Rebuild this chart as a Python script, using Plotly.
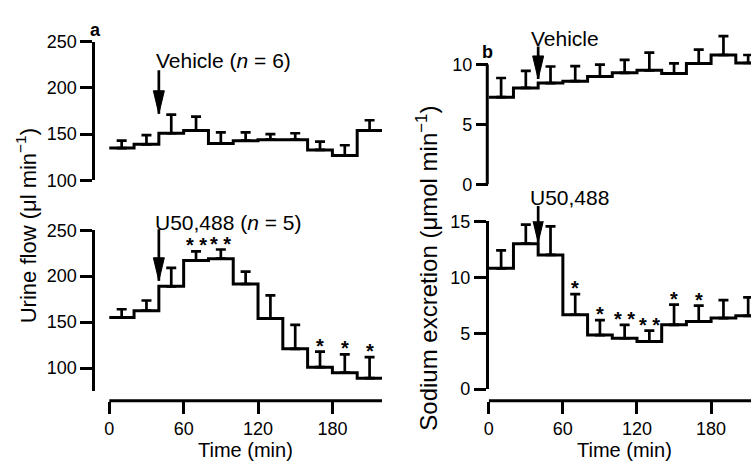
import plotly.graph_objects as go

W, H = 751, 470
FONT = "Liberation Sans, Arial, Helvetica, sans-serif"

# ---------------- data ----------------
bin_start = [0, 20, 40, 60, 80, 100, 120, 140, 160, 180, 200]
bin_width = 20

urine_vehicle = [135, 139, 151, 154, 140, 143, 144, 144, 133, 127, 154]
urine_vehicle_sem = [8, 10, 20, 15, 12, 9, 6, 7, 9, 11, 11]

urine_u50 = [155, 162.5, 189, 217, 219, 191.5, 154, 121, 101, 95, 89]
urine_u50_sem = [9, 11, 20, 10, 10, 13.5, 25, 26, 17, 20, 23]
urine_u50_sig = ["", "", "", "**", "**", "", "", "", "*", "*", "*"]

sodium_vehicle = [7.28, 8.05, 8.45, 8.61, 9.01, 9.31, 9.52, 9.25, 10.1, 10.8, 10.13]
sodium_vehicle_sem = [1.6, 1.42, 1.39, 1.26, 0.99, 1.09, 1.48, 0.85, 1.15, 1.57, 0.67]

sodium_u50 = [10.8, 13.0, 12.0, 6.65, 4.83, 4.55, 4.26, 5.75, 6.05, 6.35, 6.55]
sodium_u50_sem = [1.6, 1.7, 2.55, 1.85, 1.33, 1.19, 0.97, 1.8, 1.42, 1.6, 1.65]
sodium_u50_sig = ["", "", "", "*", "*", "**", "**", "*", "*", "", ""]

x_ticks = [0, 60, 120, 180, 240]
urine_ticks = [100, 150, 200, 250]
sodium_vehicle_ticks = [0, 5, 10]
sodium_u50_ticks = [0, 5, 10, 15]

drug_time = 40


def pxx(p):
    return p / W


def pxy(p):
    return 1 - p / H


fig = go.Figure()

panels = [
    dict(xa="x", ya="y", mean=urine_vehicle, err=urine_vehicle_sem, sig=None),
    dict(xa="x2", ya="y2", mean=urine_u50, err=urine_u50_sem, sig=urine_u50_sig),
    dict(xa="x3", ya="y3", mean=sodium_vehicle, err=sodium_vehicle_sem, sig=None),
    dict(xa="x4", ya="y4", mean=sodium_u50, err=sodium_u50_sem, sig=sodium_u50_sig),
]

annotations = []
shapes = []

for p in panels:
    xs = bin_start + [bin_start[-1] + bin_width]
    ys = p["mean"] + [p["mean"][-1]]
    fig.add_trace(go.Scatter(
        x=xs, y=ys, mode="lines",
        line=dict(shape="hv", color="black", width=3),
        xaxis=p["xa"], yaxis=p["ya"], showlegend=False, hoverinfo="skip"))
    mids = [b + bin_width / 2 for b in bin_start]
    fig.add_trace(go.Scatter(
        x=mids, y=p["mean"], mode="markers",
        marker=dict(size=2, color="rgba(0,0,0,0)"),
        error_y=dict(type="data", symmetric=False, array=p["err"],
                     arrayminus=[0] * len(p["err"]), color="black",
                     thickness=2.7, width=5),
        xaxis=p["xa"], yaxis=p["ya"], showlegend=False, hoverinfo="skip"))
    if p["sig"]:
        for m, v, e, s in zip(mids, p["mean"], p["err"], p["sig"]):
            if s:
                annotations.append(dict(
                    x=m, y=v + e, xref=p["xa"], yref=p["ya"],
                    text="<b>" + s.replace("**", "* *") + "</b>",
                    showarrow=False,
                    yanchor="bottom", yshift=-7,
                    font=dict(family=FONT, size=20, color="black")))

# arrows marking drug / vehicle administration
arrow_specs = [("x", "y", 172, 45), ("x2", "y2", 195, 53),
               ("x3", "y3", 8.8, 34), ("x4", "y4", 13.1, 38)]
for xa, ya, tip, length in arrow_specs:
    annotations.append(dict(
        x=drug_time, y=tip, xref=xa, yref=ya, ax=0, ay=-length,
        text="", showarrow=True, arrowhead=0, arrowwidth=2.7,
        arrowcolor="black", standoff=0))
    shapes.append(dict(
        type="path", xref=xa, yref=ya, xsizemode="pixel", ysizemode="pixel",
        xanchor=drug_time, yanchor=tip,
        path="M-5.5,23 L5.5,23 L0,0 Z",
        fillcolor="black", line=dict(color="black", width=1)))

# x axis lines (detached)
shapes.append(dict(type="line", xref="x2", yref="paper", x0=0,
                   x1=bin_start[-1] + bin_width, y0=pxy(408), y1=pxy(408),
                   line=dict(color="black", width=3)))
shapes.append(dict(type="line", xref="x4", yref="paper", x0=0, x1=240,
                   y0=pxy(408), y1=pxy(408),
                   line=dict(color="black", width=3)))
# top-right y axis line (only up to 10)
shapes.append(dict(type="line", xref="paper", yref="y3",
                   x0=(487 - 1.5) / W, x1=(487 - 1.5) / W, y0=-0.1, y1=10,
                   line=dict(color="black", width=3)))


# text labels
def label(text, xp, yp, size=21, angle=0, xanchor="center"):
    annotations.append(dict(
        x=pxx(xp), y=pxy(yp), xref="paper", yref="paper", text=text,
        showarrow=False, textangle=angle, xanchor=xanchor, yanchor="middle",
        borderpad=0,
        font=dict(family=FONT, size=size, color="black")))


label("Vehicle (<i>n</i> = 6)", 220, 53)
label("U50,488 (<i>n</i> = 5)", 225, 222)
label("Vehicle", 564, 30)
label("U50,488", 568, 196)
label("<b>a</b>", 91, 21, size=18)
label("<b>b</b>", 486, 44, size=18)
label("Urine flow (μl min<sup>−1</sup>)", 22, 225, size=22, angle=-90)
label("Sodium excretion (μmol min<sup>−1</sup>)", 424, 270, size=24, angle=-90)
label("Time (min)", 242, 459.5, size=20)
label("Time (min)", 624, 459.5, size=20)

tick_common = dict(ticks="outside", ticklen=12, tickwidth=3, tickcolor="black",
                   showgrid=False, zeroline=False,
                   tickfont=dict(family=FONT, size=18, color="black"))
yline = dict(showline=True, linewidth=3, linecolor="black")

left_dom = [91 / W, 382 / W]
right_dom = [487 / W, 1.0]
left_rng = [-11.2, 222]
right_rng = [0, 212.3]

fig.update_layout(
    width=W, height=H, autosize=False,
    margin=dict(l=0, r=0, t=0, b=0),
    paper_bgcolor="white", plot_bgcolor="white",
    showlegend=False,
    xaxis=dict(domain=left_dom, range=left_rng, visible=False, anchor="y"),
    yaxis=dict(domain=[pxy(178), pxy(33)], range=[100, 250], anchor="x",
               tickvals=urine_ticks, **tick_common, **yline),
    xaxis2=dict(domain=left_dom, range=left_rng, anchor="free",
                position=pxy(408), tickvals=x_ticks, showline=False,
                **tick_common),
    yaxis2=dict(domain=[pxy(398), pxy(230)], range=[75, 250], anchor="x2",
                tickvals=urine_ticks, **tick_common, **yline),
    xaxis3=dict(domain=right_dom, range=right_rng, visible=False, anchor="y3"),
    yaxis3=dict(domain=[pxy(182), pxy(19.5)], range=[0, 13], anchor="x3",
                tickvals=sodium_vehicle_ticks, showline=False, **tick_common),
    xaxis4=dict(domain=right_dom, range=right_rng, anchor="free",
                position=pxy(408), tickvals=x_ticks, showline=False,
                **tick_common),
    yaxis4=dict(domain=[pxy(396), pxy(220.7)], range=[0, 15], anchor="x4",
                tickvals=sodium_u50_ticks, **tick_common, **yline),
    annotations=annotations,
    shapes=shapes,
)

fig.write_html("out.html")
